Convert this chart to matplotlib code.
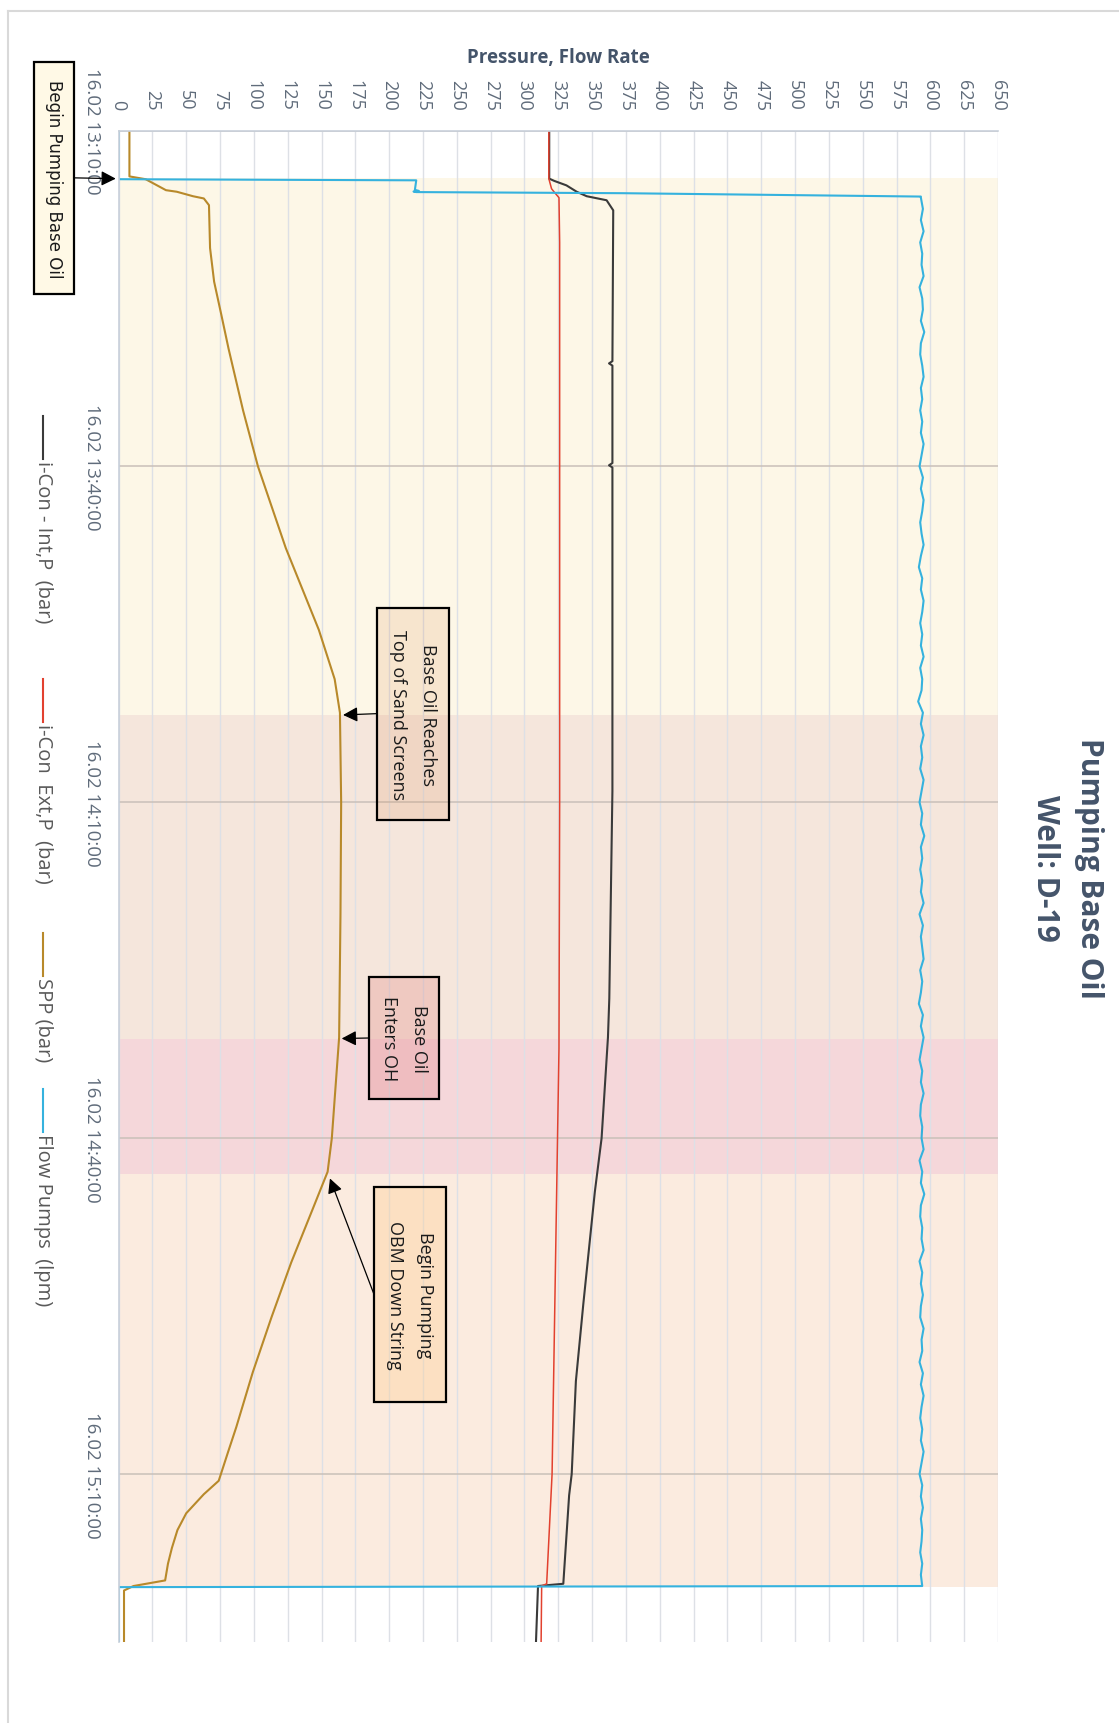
import matplotlib.pyplot as plt
import matplotlib.patches as mpatches
from matplotlib.lines import Line2D
import numpy as np

# time is minutes after 16.02 13:10:00
time_ticks = [0, 30, 60, 90, 120]
time_labels = ['16.02 13:10:00', '16.02 13:40:00', '16.02 14:10:00',
               '16.02 14:40:00', '16.02 15:10:00']
t_end = 135

# i-Con - Int,P (bar)
int_t = [0, 4.3, 4.5, 4.9, 5.47, 5.87, 6.23, 7.13, 20.6, 20.8, 21.0, 29.7, 29.9, 30.1,
         59, 77.5, 81, 90, 94.8, 104.8, 111.7, 120, 121.9, 129.8, 130.0, 135]
int_p = [318.3, 318.3, 322, 331, 338.6, 346, 360.7, 365.6, 365, 362.5, 365, 365, 362.5, 365,
         365, 362.7, 361.7, 357, 352, 343.5, 338, 334.9, 333, 328.7, 310, 308.5]

# i-Con Ext,P (bar)
ext_t = [0, 4.3, 5.2, 5.5, 6.0, 10, 60, 82, 120, 129.8, 130.0, 135]
ext_p = [318, 318, 320, 322, 325.5, 326, 326, 325.5, 320.4, 316.4, 312.7, 312.3]

# SPP (bar)
spp_t = [0, 4.1, 4.35, 5.33, 5.47, 5.87, 6.07, 6.67, 10.5, 13.5, 16.5, 19.5, 25, 30,
         37.3, 44.6, 49, 52, 60, 70, 81, 90, 93, 96.2, 101.1, 106, 110.9, 115.8, 118,
         120.6, 121.8, 123.5, 125, 126.6, 128, 129.5, 130.0, 130.4, 135]
spp = [8, 8, 20, 35, 43, 55, 63, 66.8, 67.6, 70.6, 76, 81.3, 92, 103,
       123.6, 148, 159.7, 163.6, 164.5, 164, 163, 157.6, 154.5, 143.9, 127.6, 113, 99.2, 87, 81,
       74, 63, 50, 43.5, 39.4, 36.5, 34.4, 11, 4, 4]

# Flow Pumps (lpm)
flow_start_t = [0, 4.35, 4.45, 5.3, 5.4, 5.45, 5.5, 5.6, 5.9]
flow_start = [0, 0, 220, 219, 222, 218, 220, 373, 593]
flow_steady = [
    593, 594.5, 593, 595, 592.5, 594, 593.5, 595, 592, 594, 594.5, 593, 595.5, 593, 592.5, 594, 595, 593, 594, 592.5,
    594, 593, 595, 593.5, 592, 594.5, 593, 595, 594, 592.5, 593.5, 595, 593, 591.5, 594, 593, 595, 594, 592.5, 594,
    593, 595, 592.5, 594, 593.5, 591, 594.5, 593, 595, 593, 594, 592.5, 595, 593.5, 592, 594, 593, 595.5, 593, 594,
    592.5, 594, 593, 595, 592, 594.5, 593, 594, 595, 592.5, 594, 593, 591.5, 594.5, 593, 595, 593.5, 592, 594, 593,
    595, 593, 592.5, 594, 593.5, 595, 592, 594, 593, 595.5, 593, 592.5, 594, 593.5, 595, 592, 594, 593, 594.5, 593,
    592.5, 595, 593.5, 594, 592, 594.5, 593, 595, 593.5, 592.5, 594, 593, 595, 593.5, 592, 594, 593, 594.5, 593, 594,
    593.5, 592.5, 594, 593]
flow_end_t = [130.0, 130.1, 135]
flow_end = [594, 0, 0]
flow_t = flow_start_t + list(np.arange(6, 130)) + flow_end_t
flow = flow_start + flow_steady + flow_end

# pumping phases (start, end, colour)
phases = [(4.23, 52.2, '#FDF7E7'), (52.2, 81.1, '#F5E6DC'),
          (81.1, 93.2, '#F5D7DA'), (93.2, 130.1, '#FBEBDF')]

series = [
    ('i-Con - Int,P  (bar)', int_t, int_p, '#3a3a3a', 1.5),
    ('i-Con  Ext,P  (bar)', ext_t, ext_p, '#e2412f', 1.1),
    ('SPP (bar)', spp_t, spp, '#b8892a', 1.5),
    ('Flow Pumps  (lpm)', flow_t, flow, '#35b2de', 1.5),
]
legend_y = [417, 680, 934, 1090]   # px from top where each legend entry starts

# annotations: text, tip (pressure, minutes), box (x0, y0, x1, y1 px from top-left), fill, font
notes = [
    ('Begin Pumping Base Oil', (-2.1, 4.3), (33.6, 62.7, 73.6, 295), '#FFF9E6', 'DejaVu Sans', 12),
    ('Base Oil Reaches\nTop of Sand Screens', (165.9, 52.2), (376.7, 608.7, 449, 820.6),
     (0.85, 0.5, 0.25, 0.15), 'Open Sans', 13),
    ('Base Oil\nEnters OH', (164.9, 81.1), (369, 978, 439, 1100),
     (0.85, 0.35, 0.35, 0.2), 'Open Sans', 13),
    ('Begin Pumping\nOBM Down String', (156.2, 93.6), (374, 1187.7, 445.7, 1403),
     (1.0, 0.8, 0.55, 0.35), 'Open Sans', 13),
]

W, H = 1119, 1724
fx = lambda px: px / W
fy = lambda py: 1 - py / H

fig = plt.figure(figsize=(W / 100, H / 100), dpi=100)
ax = fig.add_axes([fx(118.6), fy(1643), fx(998) - fx(118.6), fy(131.5) - fy(1643)])

for t0, t1, c in phases:
    ax.axhspan(t0, t1, color=c, lw=0, zorder=0.2)

for name, t, v, c, lw in series:
    ax.plot(v, t, color=c, lw=lw, zorder=2)

ax.set_xlim(0, 650)
ax.set_ylim(t_end, 0)
ax.set_xticks(np.arange(0, 651, 25))
ax.xaxis.tick_top()
ax.set_yticks(time_ticks)
ax.set_yticklabels(time_labels)
ax.set_axisbelow(True)
ax.grid(axis='x', color='#dde0e6', lw=1.0)
ax.grid(axis='y', color='#c9c0b9', lw=1.1)
ax.tick_params(axis='x', length=0, pad=15, labelsize=13, labelcolor='#5f6b7a')
ax.tick_params(axis='y', length=0, pad=12.7, labelsize=13.5, labelcolor='#5f6b7a')
for lab in ax.get_xticklabels():
    lab.set(rotation=270, va='bottom', ha='center', family='Open Sans')
for lab in ax.get_yticklabels():
    lab.set(rotation=270, va='center', ha='right', family='Open Sans')
for s in ['right', 'bottom']:
    ax.spines[s].set_visible(False)
for s in ['top', 'left']:
    ax.spines[s].set_color('#c8d0da')
    ax.spines[s].set_linewidth(1.2)

# annotations
for text, tip, (x0, y0, x1, y1), fc, fam, fs in notes:
    box = mpatches.Rectangle((fx(x0), fy(y1)), fx(x1) - fx(x0), fy(y0) - fy(y1),
                             transform=fig.transFigure, facecolor=fc, edgecolor='black', lw=1.6)
    fig.add_artist(box)
    fig.text(fx((x0 + x1) / 2), fy((y0 + y1) / 2), text, rotation=270, ha='center', va='center',
             multialignment='center', family=fam, fontsize=fs, color='#1a1a1a', linespacing=1.9)
    ax.annotate('', xy=tip, xycoords='data',
                xytext=(fx(x0 if text != 'Begin Pumping Base Oil' else x1), fy((y0 + y1) / 2)),
                textcoords='figure fraction', annotation_clip=False,
                arrowprops=dict(arrowstyle='-|>,head_length=0.55,head_width=0.28', color='black',
                                lw=0.9, shrinkA=0, shrinkB=0, mutation_scale=16))

# titles
fig.text(fx(1067), fy(868), 'Pumping Base Oil\nWell: D-19', rotation=270, ha='center', va='center',
         multialignment='center', fontsize=21.5, fontweight='bold', color='#44546a',
         family='Open Sans', linespacing=1.6)
fig.text(fx(558), fy(58.5), 'Pressure, Flow Rate', ha='center', va='center', fontsize=13.5,
         fontweight='bold', color='#44546a', family='Open Sans')

# legend drawn rotated, down the left side
for (name, t, v, c, lw), y in zip(series, legend_y):
    fig.add_artist(Line2D([fx(42.7), fx(42.7)], [fy(y), fy(y + 43)], transform=fig.transFigure,
                          color=c, lw=1.5))
    fig.text(fx(43), fy(y + 44), name, rotation=270, ha='center', va='top',
             fontsize=14.5, color='#595959', family='Open Sans')

# chart border
fig.add_artist(Line2D([fx(8), fx(8)], [fy(12), 0], transform=fig.transFigure, color='#d9d9d9', lw=1.5))
fig.add_artist(Line2D([fx(8), 1], [fy(12), fy(12)], transform=fig.transFigure, color='#d9d9d9', lw=1.5))

fig.savefig('out.png', dpi=100)
